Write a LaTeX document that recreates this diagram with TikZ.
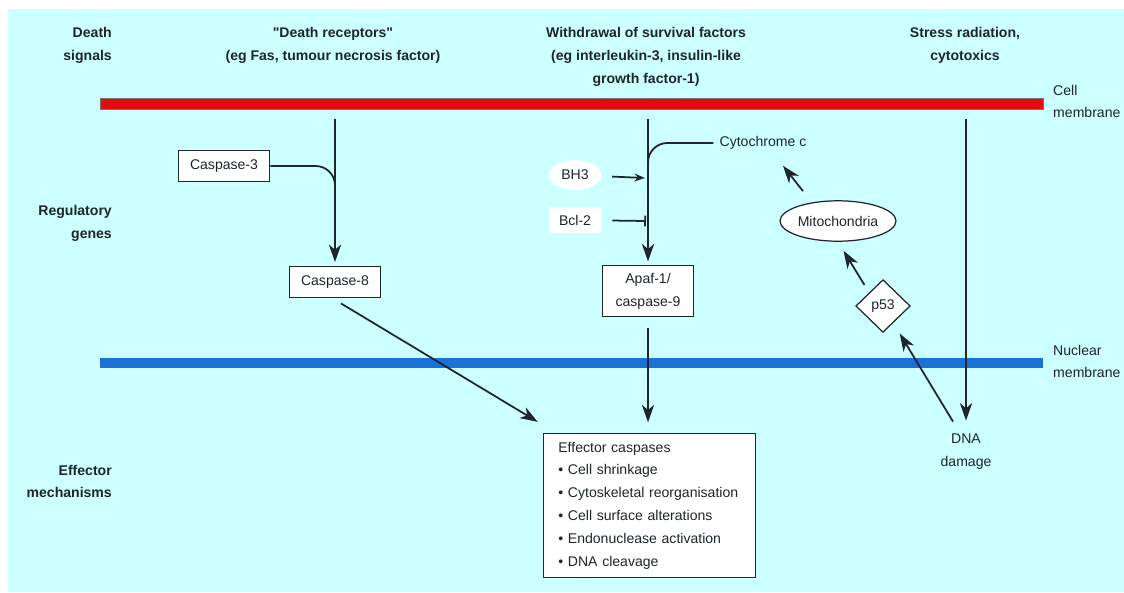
\documentclass[tikz,border=0pt]{standalone}
\usepackage{fontspec}
\setmainfont{Liberation Sans}
\usetikzlibrary{shapes,arrows.meta}

\definecolor{bgcyan}{RGB}{204,255,255}
\definecolor{memred}{RGB}{228,12,12}
\definecolor{memblue}{RGB}{26,114,214}
\definecolor{ink}{RGB}{30,38,42}

\begin{document}
\begin{tikzpicture}[x=0.02cm, y=-0.02cm,
    every node/.style={font=\fontsize{8}{13}\selectfont, text=ink},
    hdr/.style={font=\fontsize{8}{13}\selectfont\bfseries},
    gene/.style={rectangle, draw=ink, fill=white, line width=0.7pt, minimum width=52pt, minimum height=18pt},
    arr/.style={draw=ink, line width=1pt, -{Stealth[length=10pt,width=7pt,inset=3pt]}},
    smallarr/.style={draw=ink, line width=1pt, -{Stealth[length=6pt,width=4.5pt]}},
    inhib/.style={draw=ink, line width=1pt, -{Bar[width=6pt]}}]
  \useasboundingbox (0,0) rectangle (1124,592);
  \fill[bgcyan] (8,9) rectangle (1124,592);

  % membranes
  \draw[fill=memred, draw=black!55, line width=0.4pt] (100,98) rectangle (1043,109);
  \fill[memblue] (100,358) rectangle (1043,368);

  % row and column headings
  \node[hdr, align=right, anchor=east] (hdsig) at (118,45.5) {Death\\signals};
  \node[hdr, align=center] (hdrec) at (333,45.5) {\textquotedbl Death receptors\textquotedbl\\(eg Fas, tumour necrosis factor)};
  \node[hdr, align=center] (hdwith) at (646,57) {Withdrawal of survival factors\\(eg interleukin-3, insulin-like\\growth factor-1)};
  \node[hdr, align=center] (hdstress) at (965,45.5) {Stress radiation,\\cytotoxics};
  \node[hdr, align=right, anchor=east] (lblreg) at (118,223.5) {Regulatory\\genes};
  \node[hdr, align=right, anchor=east] (lbleff) at (118,481.5) {Effector\\mechanisms};
  \node[align=left, anchor=west] (lblcell) at (1047,101.5) {Cell\\membrane};
  \node[align=left, anchor=west] (lblnuc) at (1047,361.5) {Nuclear\\membrane};

  % genes
  \node[gene] (cas3) at (224,166) {Caspase-3};
  \node[gene] (cas8) at (335,282) {Caspase-8};
  \node[gene, align=center, minimum height=29pt] (apaf) at (648,291) {Apaf-1/\\caspase-9};
  \node[ellipse, fill=white, minimum width=30pt, minimum height=17pt, inner sep=0pt] (bh3) at (575,175) {BH3};
  \node[rectangle, fill=white, minimum width=30pt, minimum height=15pt] (bcl2) at (575,220) {Bcl-2};
  \node (cyto) at (763,143) {Cytochrome c};
  \node[ellipse, draw=ink, fill=white, line width=0.7pt, minimum width=66pt, minimum height=23pt, inner sep=0pt] (mito) at (838,221) {Mitochondria};
  \node[diamond, draw=ink, fill=white, line width=0.7pt, minimum width=31pt, minimum height=30pt, inner sep=0pt] (p53) at (883,306) {p53};
  \node[align=center] (dna) at (966,451.5) {DNA\\damage};
  \node[rectangle, draw=ink, fill=white, line width=0.7pt, align=left, text width=103.8pt,
        inner xsep=8.5pt, minimum height=82pt] (eff) at (649.5,505.5)
    {Effector caspases\\\textbullet{} Cell shrinkage\\\textbullet{} Cytoskeletal reorganisation\\
     \textbullet{} Cell surface alterations\\\textbullet{} Endonuclease activation\\\textbullet{} DNA cleavage};

  \coordinate (in1) at (335,119);
  \coordinate (in2) at (648,119);
  \coordinate (in3) at (966,119);
  \coordinate (j1) at (335,186);
  \coordinate (j2) at (648,163);
  \coordinate (bh3in) at (645,178);
  \coordinate (bcl2in) at (646,221);

  % pathways
  \draw[arr, shorten >=2pt] (in1) -- (cas8.north);
  \draw[draw=ink, line width=1pt, rounded corners=11pt] (cas3.east) -| (j1);
  \draw[arr, shorten >=2pt] (in2) -- (apaf.north);
  \draw[draw=ink, line width=1pt, rounded corners=11pt] (cyto.west) -| (j2);
  \draw[smallarr, shorten <=6pt] (bh3) -- (bh3in);
  \draw[inhib, shorten <=6pt] (bcl2) -- (bcl2in);
  \draw[arr] ([shift={(6,5)}]cas8.south) -- ([shift={(-5,-11)}]eff.north west);
  \draw[arr, shorten <=6pt, shorten >=6pt] (apaf.south) -- (apaf.south |- eff.north);
  \draw[arr, shorten >=4pt] (in3) -- (in3 |- dna.north);
  \draw[arr, shorten >=7pt] ([shift={(-13,-6)}]dna.north) -- (p53);
  \draw[arr, shorten <=5pt, shorten >=6pt] (p53.north west) -- (mito.south);
  \draw[arr] ([shift={(-35,-9)}]mito.north) -- ([shift={(20,10)}]cyto.south);
\end{tikzpicture}
\end{document}
